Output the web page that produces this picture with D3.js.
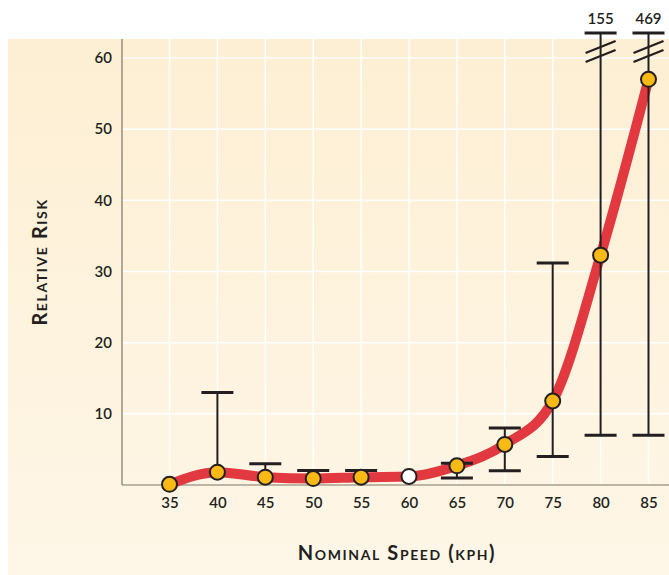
<!DOCTYPE html>
<html><head><meta charset="utf-8">
<script src="https://cdn.jsdelivr.net/npm/d3@7"></script>
<style>
html,body{margin:0;padding:0;background:#fff;}
svg{display:block;}
text{font-family:Lato,"Open Sans",sans-serif;fill:#231f20;}
</style></head><body>
<script>
const speeds = [35,40,45,50,55,60,65,70,75,80,85];
const risk   = [0.1,1.8,1.1,0.9,1.1,1.2,2.7,5.7,11.8,32.3,57.0];
const upper  = [null,13.0,3.0,2.05,2.05,null,3.05,8.0,31.2,155,469];
const lower  = [null,null,null,null,null,null,1.0,2.0,4.0,7.0,7.0];
const isRef  = [false,false,false,false,false,true,false,false,false,false,false];
const yTicks = [10,20,30,40,50,60];
const xLabel = "Nominal Speed (kph)";
const yLabel = "Relative Risk";

const W=669,H=575;
const FONT="Lato,'Open Sans',sans-serif";
const svg=d3.select("body").append("svg").attr("width",W).attr("height",H);
const defs=svg.append("defs");
const g=defs.append("linearGradient").attr("id","bg").attr("x1",0).attr("y1",0).attr("x2",0).attr("y2",1);
g.append("stop").attr("offset","0%").attr("stop-color","#fdefd3");
g.append("stop").attr("offset","100%").attr("stop-color","#fef6e7");
svg.append("rect").attr("x",8).attr("y",39).attr("width",W-8).attr("height",H-39).attr("fill","url(#bg)");

const x=d3.scaleLinear().domain([35,85]).range([169.5,648.5]);
const y=d3.scaleLinear().domain([0,60]).range([485,58]);
const plotTop=39, plotLeft=122, plotRight=W;
const yMax=y.invert(plotTop);

// grid
svg.append("g").selectAll("line").data(speeds).join("line")
 .attr("x1",d=>x(d)).attr("x2",d=>x(d)).attr("y1",plotTop).attr("y2",y(0))
 .attr("stroke","#fff").attr("stroke-width",1.5);
svg.append("g").selectAll("line").data(yTicks).join("line")
 .attr("x1",plotLeft).attr("x2",plotRight).attr("y1",d=>y(d)).attr("y2",d=>y(d))
 .attr("stroke","#fff").attr("stroke-width",1.5);

// axes
const yAx=svg.append("g").attr("transform",`translate(${plotLeft},0)`)
 .call(d3.axisLeft(y).tickValues(yTicks).tickSize(0).tickPadding(10));
yAx.select(".domain").remove();
yAx.selectAll("text").attr("font-size",15).attr("font-weight",600).style("font-family",FONT).attr("fill","#231f20");
const xAx=svg.append("g").attr("transform",`translate(0,${y(0)})`)
 .call(d3.axisBottom(x).tickValues(speeds).tickSize(0).tickPadding(12).tickFormat(d3.format("d")));
xAx.select(".domain").remove();
xAx.selectAll("text").attr("font-size",15).attr("font-weight",600).style("font-family",FONT).attr("fill","#231f20");
svg.append("line").attr("x1",plotLeft).attr("x2",plotLeft).attr("y1",plotTop).attr("y2",y(0)).attr("stroke","#7d7565").attr("stroke-width",1.2);
svg.append("line").attr("x1",plotLeft).attr("x2",plotRight).attr("y1",y(0)).attr("y2",y(0)).attr("stroke","#7d7565").attr("stroke-width",1.2);

// line
const pts=speeds.map((s,i)=>({s,v:risk[i],u:upper[i],l:lower[i],ref:isRef[i]}));
svg.append("path").datum(pts)
 .attr("d",d3.line().x(d=>x(d.s)).y(d=>y(d.v)).curve(d3.curveMonotoneX))
 .attr("fill","none").attr("stroke","#e2383f").attr("stroke-width",10).attr("stroke-linejoin","round");

// error bars
const capTop=33;
const eb=svg.append("g").attr("stroke","#231f20");
pts.forEach(d=>{
  if(d.u==null) return;
  const cx=x(d.s);
  const broken=d.u>yMax;
  const yu=broken?capTop:y(d.u);
  const yl=d.l!=null?y(d.l):y(d.v);
  eb.append("line").attr("x1",cx).attr("x2",cx).attr("y1",yu).attr("y2",yl).attr("stroke-width",2);
  eb.append("line").attr("x1",cx-16).attr("x2",cx+16).attr("y1",yu).attr("y2",yu).attr("stroke-width",3);
  if(d.l!=null) eb.append("line").attr("x1",cx-16).attr("x2",cx+16).attr("y1",yl).attr("y2",yl).attr("stroke-width",3);
  if(broken){
    [47,56].forEach(yb=>{
      eb.append("line").attr("x1",cx-15).attr("x2",cx+15).attr("y1",yb+6).attr("y2",yb-6).attr("stroke-width",2.2);
    });
    svg.append("text").attr("x",cx).attr("y",24).attr("text-anchor","middle")
      .attr("font-size",15).attr("font-weight",600).style("font-family",FONT).text(d3.format("d")(d.u));
  }
});

// points
svg.append("g").selectAll("circle").data(pts).join("circle")
 .attr("cx",d=>x(d.s)).attr("cy",d=>y(d.v)).attr("r",7.5)
 .attr("fill",d=>d.ref?"#ffffff":"#fbb915").attr("stroke","#231f20").attr("stroke-width",2);

// titles
svg.append("text").attr("x",397).attr("y",560).attr("text-anchor","middle")
 .attr("font-size",20).attr("font-weight",700).style("font-variant","small-caps").attr("letter-spacing",1.6).text(xLabel);
svg.append("text").attr("transform","translate(47,262) rotate(-90)").attr("text-anchor","middle")
 .attr("font-size",20).attr("font-weight",700).style("font-variant","small-caps").attr("letter-spacing",1.6).text(yLabel);
</script>
</body></html>
